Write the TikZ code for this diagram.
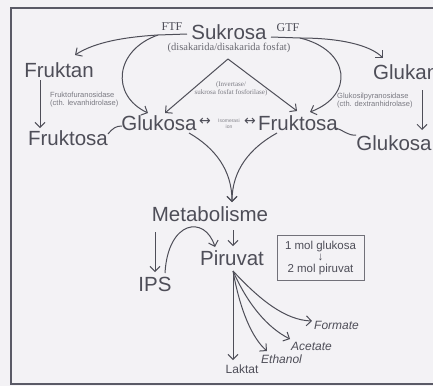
\documentclass[tikz,border=0pt]{standalone}
\usepackage{fontspec}
\setmainfont{Liberation Serif}
\setsansfont{Liberation Sans}
\newfontfamily\symfont{DejaVu Sans}
\usetikzlibrary{arrows.meta}
\definecolor{ink}{HTML}{4E4E58}
\definecolor{bg}{HTML}{F3F2F5}
\definecolor{framec}{HTML}{5A5A66}
\begin{document}
\begin{tikzpicture}[x=1pt,y=-1pt,
  big/.style={font=\sffamily\fontsize{20.5}{22}\selectfont, text=ink, inner sep=0pt},
  serlab/.style={font=\rmfamily\fontsize{12}{13}\selectfont, text=ink, inner sep=0pt},
  dislab/.style={font=\rmfamily\fontsize{10.5}{12}\selectfont, text=ink!85, inner sep=0pt},
  enz/.style={font=\sffamily\fontsize{7.5}{8}\selectfont, text=ink!75, inner sep=0pt, align=left},
  invlab/.style={font=\rmfamily\fontsize{7}{8}\selectfont, text=ink!75, inner sep=0pt, align=center},
  tinylab/.style={font=\sffamily\fontsize{5}{6}\selectfont, text=ink!70, inner sep=0pt, align=center},
  symb/.style={font=\symfont\fontsize{14}{15}\selectfont, text=ink, inner sep=0pt},
  prod/.style={font=\sffamily\fontsize{12}{13}\selectfont, text=ink, inner sep=0pt},
  prodit/.style={font=\sffamily\itshape\fontsize{12}{13}\selectfont, text=ink, inner sep=0pt},
  boxlab/.style={draw=ink!80, line width=0.8pt, font=\sffamily\fontsize{11.5}{12.5}\selectfont, text=ink, align=center, minimum width=87pt, minimum height=45pt, inner sep=0pt},
  conn/.style={draw=ink, line width=1pt},
  arr/.style={conn, -{Straight Barb[length=5pt,width=10pt]}}
]
\useasboundingbox (0,0) rectangle (433,386);
\fill[bg] (0,0) rectangle (433,386);
\draw[framec, line width=2pt] (11,8) rectangle (445,384);

% top
\node[big] (suk) at (229,32) {Sukrosa};
\node[serlab] (ftf) at (172,27) {FTF};
\node[serlab] (gtf) at (288,28) {GTF};
\node[dislab] (dis) at (229,48) {(disakarida/disakarida fosfat)};
\node[big] (fruktan) at (59,70) {Fruktan};
\node[big, anchor=west] (glukan) at (373,72) {Glukan};
\node[enz, anchor=west] (enzL) at (50,100) {Fruktofuranosidase\\(cth. levanhidrolase)};
\node[enz, anchor=west] (enzR) at (337,101) {Glukosilpyranosidase\\(cth. dextranhidrolase)};
\node[invlab] (inv) at (231,89) {(Invertase/\\sukrosa fosfat fosforilase)};

% middle row
\node[big] (gluL) at (159,123) {Glukosa};
\node[symb] (lr1) at (205,122) {↔};
\node[tinylab] (mut) at (229,124) {Isomerasi\\ion};
\node[symb] (lr2) at (250,122) {↔};
\node[big] (fruR) at (298,123) {Fruktosa};
\node[big] (fruL) at (68,138) {Fruktosa};
\node[big] (gluR) at (394,143) {Glukosa};

% lower part
\node[big] (meta) at (210,214) {Metabolisme};
\node[big] (pir) at (232,258) {Piruvat};
\node[big] (ips) at (155,284) {IPS};
\node[boxlab] (box) at (320.5,258) {1 mol glukosa\\[-1pt]↓\\[-1pt]2 mol piruvat};
\node[prod] (lak) at (242,369) {Laktat};
\node[prodit, anchor=west] (eth) at (261,359) {Ethanol};
\node[prodit, anchor=west] (ace) at (291,346) {Acetate};
\node[prodit, anchor=west] (for) at (314,325) {Formate};

% coordinates
\coordinate (ftfR) at (187,34);
\coordinate (ftfL) at (158,35);
\coordinate (gtfL) at (271,37);
\coordinate (gtfR) at (300,38);
\coordinate (apex) at (228,59);
\coordinate (tFruktan) at (75,55);
\coordinate (tGluL1) at (148,113);
\coordinate (tGluL2) at (165,113);
\coordinate (tFruR1) at (297,111);
\coordinate (tFruR2) at (310,112);
\coordinate (tGlukan) at (383,58);
\coordinate (meet) at (232,202);
\coordinate (gluOut) at (189,133);
\coordinate (fruOut) at (277,133);
\coordinate (metaL) at (155,232);
\coordinate (metaB) at (233,230);
\coordinate (ipsTop) at (155,272);
\coordinate (ipsR) at (165,273);
\coordinate (pirTop) at (233,246);
\coordinate (pirTL) at (215,247);
\coordinate (pirB) at (233,271);

% FTF / GTF
\draw[arr] (ftfR) -- (ftfL) .. controls (125,37) and (95,42) .. (tFruktan);
\draw[arr] (ftfL) .. controls (115,50) and (110,95) .. (tGluL1);
\draw[arr] (gtfL) -- (gtfR) .. controls (340,38) and (370,45) .. (tGlukan);
\draw[arr] (gtfR) .. controls (350,50) and (355,95) .. (tFruR2);
% invertase triangle
\draw[arr] (apex) -- (tGluL2);
\draw[arr] (apex) -- (tFruR1);
% hydrolysis
\draw[arr] (40,80) -- (40,128);
\draw[arr] (422,90) -- (422,130);
% links
\draw[conn] (108,134) .. controls (113,128) and (116,126) .. (122,126);
\draw[conn] (336,128) .. controls (343,130) and (348,136) .. (356,135);
% to metabolism
\draw[arr] (gluOut) .. controls (215,148) and (232,170) .. (meet);
\draw[arr] (fruOut) .. controls (250,148) and (232,170) .. (meet);
% metabolism
\draw[arr] (metaL) -- (ipsTop);
\draw[arr] (metaB) -- (pirTop);
\draw[arr] (ipsR) .. controls (168,220) and (205,215) .. (pirTL);
% products
\draw[arr] (pirB) -- (233,360);
\draw[arr] (pirB) .. controls (240,310) and (252,338) .. (267,351);
\draw[arr] (pirB) .. controls (248,305) and (268,328) .. (290,339);
\draw[arr] (pirB) .. controls (260,300) and (285,320) .. (312,321);
\end{tikzpicture}
\end{document}
